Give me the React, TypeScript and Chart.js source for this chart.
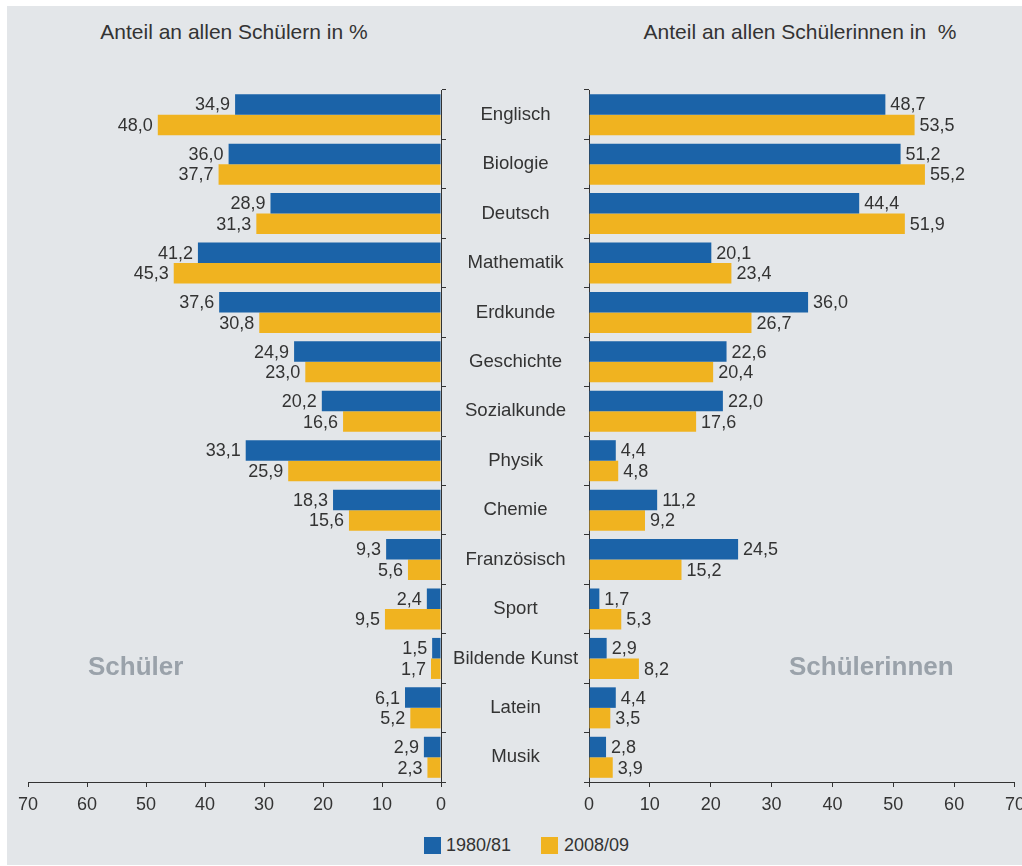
import React, { useEffect, useRef } from "react";
import { Chart, registerables } from "chart.js";

Chart.register(...registerables);

const categories = [
  "Englisch",
  "Biologie",
  "Deutsch",
  "Mathematik",
  "Erdkunde",
  "Geschichte",
  "Sozialkunde",
  "Physik",
  "Chemie",
  "Französisch",
  "Sport",
  "Bildende Kunst",
  "Latein",
  "Musik",
];
const boys1980 = [34.9, 36.0, 28.9, 41.2, 37.6, 24.9, 20.2, 33.1, 18.3, 9.3, 2.4, 1.5, 6.1, 2.9];
const boys2008 = [48.0, 37.7, 31.3, 45.3, 30.8, 23.0, 16.6, 25.9, 15.6, 5.6, 9.5, 1.7, 5.2, 2.3];
const girls1980 = [48.7, 51.2, 44.4, 20.1, 36.0, 22.6, 22.0, 4.4, 11.2, 24.5, 1.7, 2.9, 4.4, 2.8];
const girls2008 = [53.5, 55.2, 51.9, 23.4, 26.7, 20.4, 17.6, 4.8, 9.2, 15.2, 5.3, 8.2, 3.5, 3.9];
const seriesLabels = ["1980/81", "2008/09"];
const xTicks = [0, 10, 20, 30, 40, 50, 60, 70];

const BLUE = "#1b63a8";
const YELLOW = "#f0b320";
const BG = "#e3e6e9";
const TEXT = "#333333";
const FONT = "'Liberation Sans', Arial, Helvetica, sans-serif";

const fmt = (v: number) => v.toFixed(1).replace(".", ",");

function makeLabelPlugin(side: "left" | "right") {
  return {
    id: "valueLabels" + side,
    afterDatasetsDraw(chart: any) {
      const ctx = chart.ctx;
      ctx.save();
      ctx.font = `18px ${FONT}`;
      ctx.fillStyle = TEXT;
      ctx.textBaseline = "middle";
      chart.data.datasets.forEach((ds: any, i: number) => {
        const meta = chart.getDatasetMeta(i);
        meta.data.forEach((bar: any, j: number) => {
          const v = ds.data[j];
          if (side === "left") {
            ctx.textAlign = "right";
            ctx.fillText(fmt(v), bar.x - 5, bar.y + 1);
          } else {
            ctx.textAlign = "left";
            ctx.fillText(fmt(v), bar.x + 5, bar.y + 1);
          }
        });
      });
      ctx.restore();
    },
  };
}

function commonX(reverse: boolean) {
  return {
    type: "linear" as const,
    min: 0,
    max: 70,
    reverse,
    afterBuildTicks: (scale: any) => {
      scale.ticks = xTicks.map((v) => ({ value: v }));
    },
    afterFit: (scale: any) => {
      scale.height = 48;
    },
    grid: {
      drawOnChartArea: false,
      drawTicks: true,
      tickLength: 5,
      color: TEXT,
      lineWidth: 1,
    },
    border: { display: true, color: TEXT, width: 1 },
    ticks: {
      color: TEXT,
      font: { size: 18, family: FONT },
      padding: 7,
      maxRotation: 0,
      autoSkip: false,
    },
  };
}

function datasets(a: number[], b: number[]) {
  return [
    {
      label: seriesLabels[0],
      data: a,
      backgroundColor: BLUE,
      categoryPercentage: 0.83,
      barPercentage: 1.0,
    },
    {
      label: seriesLabels[1],
      data: b,
      backgroundColor: YELLOW,
      categoryPercentage: 0.83,
      barPercentage: 1.0,
    },
  ];
}

export default function App() {
  const leftRef = useRef<HTMLCanvasElement>(null);
  const rightRef = useRef<HTMLCanvasElement>(null);

  useEffect(() => {
    Chart.defaults.font.family = FONT;
    const left = new Chart(leftRef.current!, {
      type: "bar",
      data: { labels: categories, datasets: datasets(boys1980, boys2008) as any },
      options: {
        indexAxis: "y",
        animation: false,
        responsive: false,
        maintainAspectRatio: false,
        layout: { padding: { left: 21, top: 20, right: 0, bottom: 0 } },
        plugins: { legend: { display: false }, tooltip: { enabled: false } },
        scales: {
          x: commonX(true) as any,
          y: {
            type: "category",
            position: "right",
            afterFit: (scale: any) => {
              scale.width = 146;
            },
            grid: {
              drawOnChartArea: false,
              drawTicks: true,
              tickLength: 5,
              offset: true,
              color: TEXT,
              lineWidth: 1,
            },
            border: { display: true, color: TEXT, width: 1 },
            ticks: {
              color: TEXT,
              font: { size: 18.6, family: FONT },
              crossAlign: "center",
              padding: 7,
              autoSkip: false,
            },
          } as any,
        },
      },
      plugins: [makeLabelPlugin("left")],
    });

    const right = new Chart(rightRef.current!, {
      type: "bar",
      data: { labels: categories, datasets: datasets(girls1980, girls2008) as any },
      options: {
        indexAxis: "y",
        animation: false,
        responsive: false,
        maintainAspectRatio: false,
        layout: { padding: { left: 0, top: 20, right: 16, bottom: 0 } },
        plugins: { legend: { display: false }, tooltip: { enabled: false } },
        scales: {
          x: commonX(false) as any,
          y: {
            type: "category",
            position: "left",
            afterFit: (scale: any) => {
              scale.width = 9;
            },
            grid: {
              drawOnChartArea: false,
              drawTicks: true,
              tickLength: 5,
              offset: true,
              color: TEXT,
              lineWidth: 1,
            },
            border: { display: true, color: TEXT, width: 1 },
            ticks: { display: false },
          } as any,
        },
      },
      plugins: [makeLabelPlugin("right")],
    });

    return () => {
      left.destroy();
      right.destroy();
    };
  }, []);

  const textBase: React.CSSProperties = {
    position: "absolute",
    fontFamily: FONT,
    color: TEXT,
    whiteSpace: "pre",
  };

  return (
    <div
      style={{
        position: "absolute",
        left: 0,
        top: 0,
        width: 1022,
        height: 866,
        overflow: "hidden",
        background: "#ffffff",
      }}
    >
      <div
        style={{
          position: "absolute",
          left: 7,
          top: 6,
          width: 1015,
          height: 859,
          background: BG,
        }}
      />
      <div
        style={{
          ...textBase,
          left: 34,
          top: 20,
          width: 400,
          textAlign: "center",
          fontSize: 21,
          lineHeight: "24px",
        }}
      >
        Anteil an allen Schülern in %
      </div>
      <div
        style={{
          ...textBase,
          left: 600,
          top: 20,
          width: 400,
          textAlign: "center",
          fontSize: 21,
          lineHeight: "24px",
        }}
      >
        Anteil an allen Schülerinnen in  %
      </div>
      <canvas
        ref={leftRef}
        width={580}
        height={760}
        style={{ position: "absolute", left: 7, top: 70, width: 580, height: 760 }}
      />
      <canvas
        ref={rightRef}
        width={455}
        height={760}
        style={{ position: "absolute", left: 577, top: 70, width: 455, height: 760 }}
      />
      <div
        style={{
          ...textBase,
          left: 88,
          top: 651,
          fontSize: 26,
          fontWeight: "bold",
          lineHeight: "30px",
          color: "#9aa2aa",
        }}
      >
        Schüler
      </div>
      <div
        style={{
          ...textBase,
          left: 789,
          top: 651,
          fontSize: 26,
          fontWeight: "bold",
          lineHeight: "30px",
          color: "#9aa2aa",
        }}
      >
        Schülerinnen
      </div>
      <div style={{ position: "absolute", left: 424, top: 837, width: 17, height: 17, background: BLUE }} />
      <div style={{ ...textBase, left: 446, top: 835, fontSize: 18, lineHeight: "20px" }}>{seriesLabels[0]}</div>
      <div style={{ position: "absolute", left: 541, top: 837, width: 17, height: 17, background: YELLOW }} />
      <div style={{ ...textBase, left: 564, top: 835, fontSize: 18, lineHeight: "20px" }}>{seriesLabels[1]}</div>
    </div>
  );
}
